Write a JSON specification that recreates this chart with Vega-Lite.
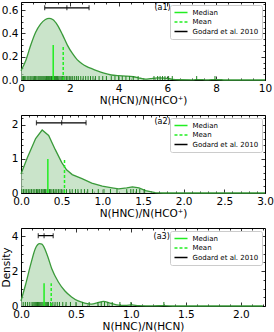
{
"$schema": "https://vega.github.io/schema/vega-lite/v6.json",
"padding": {"left": 0, "top": 1, "right": 0, "bottom": 0},
"spacing": 7,
"config": {
  "font": "DejaVu Sans",
  "view": {"stroke": "black", "strokeWidth": 1},
  "axis": {"domain": false, "grid": false, "tickColor": "black", "tickSize": -4, "tickWidth": 0.8, "labelFont": "DejaVu Sans", "labelFontSize": 10.5, "labelColor": "black", "labelPadding": 7, "labelOverlap": false, "labelBound": false, "labelFlush": false, "titleFont": "DejaVu Sans", "titleFontSize": 10.5, "titleFontWeight": "normal", "titleColor": "black", "titlePadding": 2, "minExtent": 0},
  "axisY": {"titlePadding": 0},
  "legend": {"orient": "top-right", "offset": 3, "fillColor": "white", "strokeColor": "#cccccc", "cornerRadius": 2, "padding": 3.5, "labelFont": "DejaVu Sans", "labelFontSize": 7, "labelColor": "black", "symbolType": "stroke", "symbolSize": 170, "symbolStrokeWidth": 1.5, "rowPadding": 1.5, "labelOffset": 4, "clipHeight": 8}
},
"datasets": {
  "k1": [{"x":0,"d":0.08},{"x":0.2,"d":0.17},{"x":0.4,"d":0.3},{"x":0.6,"d":0.41},{"x":0.8,"d":0.48},{"x":1.0,"d":0.52},{"x":1.15,"d":0.53},{"x":1.3,"d":0.52},{"x":1.5,"d":0.47},{"x":1.7,"d":0.39},{"x":1.9,"d":0.3},{"x":2.1,"d":0.23},{"x":2.3,"d":0.175},{"x":2.5,"d":0.14},{"x":2.7,"d":0.115},{"x":2.9,"d":0.097},{"x":3.1,"d":0.08},{"x":3.4,"d":0.058},{"x":3.7,"d":0.043},{"x":4.0,"d":0.037},{"x":4.3,"d":0.034},{"x":4.6,"d":0.028},{"x":4.9,"d":0.015},{"x":5.1,"d":0.008},{"x":5.3,"d":0.012},{"x":5.6,"d":0.018},{"x":5.9,"d":0.016},{"x":6.2,"d":0.006},{"x":6.5,"d":0.002},{"x":7.0,"d":0.001},{"x":7.3,"d":0.004},{"x":7.6,"d":0.001},{"x":8.0,"d":0.004},{"x":8.4,"d":0.0},{"x":10,"d":0}],
  "k2": [{"x":0,"d":0.56},{"x":0.08,"d":1.05},{"x":0.18,"d":1.6},{"x":0.26,"d":1.85},{"x":0.34,"d":1.69},{"x":0.42,"d":1.28},{"x":0.5,"d":0.9},{"x":0.56,"d":0.68},{"x":0.63,"d":0.54},{"x":0.75,"d":0.42},{"x":0.87,"d":0.29},{"x":1.0,"d":0.2},{"x":1.12,"d":0.15},{"x":1.2,"d":0.12},{"x":1.3,"d":0.15},{"x":1.37,"d":0.18},{"x":1.45,"d":0.15},{"x":1.53,"d":0.07},{"x":1.65,"d":0.01},{"x":1.75,"d":0},{"x":3.0,"d":0}],
  "k3": [{"x":0,"d":0.29},{"x":0.04,"d":1.19},{"x":0.09,"d":2.43},{"x":0.13,"d":3.29},{"x":0.17,"d":3.58},{"x":0.19,"d":3.55},{"x":0.24,"d":2.9},{"x":0.28,"d":2.14},{"x":0.34,"d":1.38},{"x":0.4,"d":0.86},{"x":0.46,"d":0.52},{"x":0.52,"d":0.29},{"x":0.58,"d":0.17},{"x":0.64,"d":0.11},{"x":0.7,"d":0.19},{"x":0.75,"d":0.27},{"x":0.81,"d":0.17},{"x":0.87,"d":0.07},{"x":0.95,"d":0.04},{"x":1.01,"d":0.06},{"x":1.07,"d":0.02},{"x":1.2,"d":0.01},{"x":1.3,"d":0.02},{"x":1.4,"d":0},{"x":2.2,"d":0}],
  "r1": [{"v":0.05},{"v":0.1},{"v":0.15},{"v":0.2},{"v":0.28},{"v":0.33},{"v":0.4},{"v":0.45},{"v":0.5},{"v":0.55},{"v":0.6},{"v":0.65},{"v":0.7},{"v":0.74},{"v":0.78},{"v":0.82},{"v":0.86},{"v":0.9},{"v":0.94},{"v":0.98},{"v":1.02},{"v":1.05},{"v":1.08},{"v":1.12},{"v":1.15},{"v":1.18},{"v":1.22},{"v":1.25},{"v":1.28},{"v":1.32},{"v":1.35},{"v":1.38},{"v":1.42},{"v":1.46},{"v":1.5},{"v":1.55},{"v":1.6},{"v":1.65},{"v":1.7},{"v":1.75},{"v":1.8},{"v":1.86},{"v":1.92},{"v":1.98},{"v":2.05},{"v":2.12},{"v":2.2},{"v":2.28},{"v":2.35},{"v":2.45},{"v":2.55},{"v":2.65},{"v":2.75},{"v":2.85},{"v":2.95},{"v":3.05},{"v":3.2},{"v":3.35},{"v":3.5},{"v":3.7},{"v":3.85},{"v":4.0},{"v":4.15},{"v":4.3},{"v":4.45},{"v":4.6},{"v":4.8},{"v":5.45},{"v":5.6},{"v":5.7},{"v":5.8},{"v":5.9},{"v":6.05},{"v":6.2},{"v":7.2},{"v":7.95}],
  "r2": [{"v":0.01},{"v":0.03},{"v":0.05},{"v":0.07},{"v":0.09},{"v":0.11},{"v":0.13},{"v":0.15},{"v":0.17},{"v":0.19},{"v":0.2},{"v":0.22},{"v":0.23},{"v":0.25},{"v":0.26},{"v":0.28},{"v":0.29},{"v":0.3},{"v":0.32},{"v":0.33},{"v":0.35},{"v":0.36},{"v":0.38},{"v":0.4},{"v":0.42},{"v":0.44},{"v":0.46},{"v":0.48},{"v":0.5},{"v":0.53},{"v":0.56},{"v":0.6},{"v":0.63},{"v":0.67},{"v":0.7},{"v":0.74},{"v":0.78},{"v":0.82},{"v":0.88},{"v":0.95},{"v":1.02},{"v":1.1},{"v":1.18},{"v":1.3},{"v":1.35},{"v":1.38},{"v":1.42},{"v":1.46},{"v":1.52}],
  "r3": [{"v":0.02},{"v":0.04},{"v":0.06},{"v":0.08},{"v":0.1},{"v":0.11},{"v":0.12},{"v":0.13},{"v":0.14},{"v":0.15},{"v":0.16},{"v":0.17},{"v":0.18},{"v":0.19},{"v":0.2},{"v":0.21},{"v":0.22},{"v":0.23},{"v":0.24},{"v":0.25},{"v":0.27},{"v":0.29},{"v":0.31},{"v":0.33},{"v":0.35},{"v":0.38},{"v":0.41},{"v":0.45},{"v":0.5},{"v":0.56},{"v":0.62},{"v":0.7},{"v":0.73},{"v":0.76},{"v":0.79},{"v":0.83},{"v":0.9},{"v":1.0},{"v":1.3}],
  "s1": [{"stat":"Median","v":1.32},{"stat":"Mean","v":1.73}],
  "s2": [{"stat":"Median","v":0.33},{"stat":"Mean","v":0.535}],
  "s3": [{"stat":"Median","v":0.21},{"stat":"Mean","v":0.275}],
  "g1": [{"stat":"Godard et al. 2010","v":0.97},{"stat":"Godard et al. 2010","v":1.88},{"stat":"Godard et al. 2010","v":2.79}],
  "g2": [{"stat":"Godard et al. 2010","v":0.19},{"stat":"Godard et al. 2010","v":0.5},{"stat":"Godard et al. 2010","v":0.8}],
  "g3": [{"stat":"Godard et al. 2010","v":0.157},{"stat":"Godard et al. 2010","v":0.21},{"stat":"Godard et al. 2010","v":0.293}]
},
"resolve": {"scale": {"x": "independent", "y": "independent", "color": "independent", "strokeDash": "independent"}},
"vconcat": [
{
  "width": 244, "height": 78,
  "resolve": {"axis": {"x": "independent", "y": "independent"}},
  "layer": [
    {"data": {"name": "k1"}, "mark": {"type": "area", "interpolate": "monotone", "fill": "#b3d9b3", "line": {"color": "#3a9a3a", "strokeWidth": 1.3}},
     "encoding": {
       "x": {"field": "x", "type": "quantitative", "scale": {"domain": [0, 10], "nice": false, "zero": false}, "axis": {"orient": "bottom", "values": [0,2,4,6,8,10], "format": "d", "title": "N(HCN)/N(HCO⁺)"}},
       "y": {"field": "d", "type": "quantitative", "scale": {"domain": [0, 0.67], "nice": false}, "axis": {"orient": "left", "values": [0,0.2,0.4,0.6], "format": ".1f", "title": null}}}},
    {"data": {"name": "r1"}, "mark": {"type": "rule", "color": "#1e801e", "opacity": 1, "strokeWidth": 1},
     "encoding": {
       "x": {"field": "v", "type": "quantitative", "axis": {"orient": "top", "values": [0,2,4,6,8,10], "labels": false, "title": null}},
       "y": {"datum": 0, "axis": {"orient": "right", "values": [0,0.2,0.4,0.6], "labels": false, "title": null}},
       "y2": {"datum": 0.034}}},
    {"data": {"name": "s1"}, "mark": {"type": "rule", "strokeWidth": 1.5},
     "encoding": {
       "x": {"field": "v", "type": "quantitative", "axis": {"orient": "bottom", "values": [0.5,1,1.5,2.5,3,3.5,4.5,5,5.5,6.5,7,7.5,8.5,9,9.5], "labels": false, "tickSize": -2, "title": null}},
       "y": {"datum": 0, "axis": {"orient": "left", "values": [0.05,0.1,0.15,0.25,0.3,0.35,0.45,0.5,0.55,0.65], "labels": false, "tickSize": -2, "title": null}},
       "y2": {"datum": 0.3},
       "color": {"field": "stat", "type": "nominal", "scale": {"domain": ["Median","Mean","Godard et al. 2010"], "range": ["#22ee22","#22ee22","black"]}, "legend": {"title": null}},
       "strokeDash": {"field": "stat", "type": "nominal", "scale": {"domain": ["Median","Mean","Godard et al. 2010"], "range": [[1,0],[3,2],[1,0]]}, "legend": {"title": null}}}},
    {"data": {"name": "g1"}, "mark": {"type": "rule", "strokeWidth": 1.3},
     "encoding": {
       "x": {"aggregate": "min", "field": "v", "type": "quantitative", "axis": {"orient": "top", "values": [0.5,1,1.5,2.5,3,3.5,4.5,5,5.5,6.5,7,7.5,8.5,9,9.5], "labels": false, "tickSize": -2, "title": null}},
       "x2": {"aggregate": "max", "field": "v"},
       "y": {"datum": 0.62, "axis": {"orient": "right", "values": [0.05,0.1,0.15,0.25,0.3,0.35,0.45,0.5,0.55,0.65], "labels": false, "tickSize": -2, "title": null}},
       "color": {"field": "stat", "type": "nominal", "legend": {"title": null}},
       "strokeDash": {"field": "stat", "type": "nominal", "legend": {"title": null}}}},
    {"data": {"name": "g1"}, "mark": {"type": "tick", "orient": "vertical", "color": "black", "size": 5, "thickness": 1.2},
     "encoding": {"x": {"field": "v", "type": "quantitative", "axis": null}, "y": {"datum": 0.62, "axis": null}}},
    {"data": {"values": [{"t": "(a1)"}]}, "mark": {"type": "text", "fontSize": 8, "font": "DejaVu Sans", "color": "black"},
     "encoding": {"x": {"datum": 5.8, "axis": null}, "y": {"datum": 0.62, "axis": null}, "text": {"field": "t"}}}
  ]
},
{
  "width": 244, "height": 78,
  "resolve": {"axis": {"x": "independent", "y": "independent"}},
  "layer": [
    {"data": {"name": "k2"}, "mark": {"type": "area", "interpolate": "linear", "fill": "#b3d9b3", "line": {"color": "#3a9a3a", "strokeWidth": 1.3}},
     "encoding": {
       "x": {"field": "x", "type": "quantitative", "scale": {"domain": [0, 3], "nice": false, "zero": false}, "axis": {"orient": "bottom", "values": [0,0.5,1,1.5,2,2.5,3], "format": ".1f", "title": "N(HNC)/N(HCO⁺)"}},
       "y": {"field": "d", "type": "quantitative", "scale": {"domain": [0, 2.29], "nice": false}, "axis": {"orient": "left", "values": [0,1,2], "format": "d", "title": null}}}},
    {"data": {"name": "r2"}, "mark": {"type": "rule", "color": "#1e801e", "opacity": 1, "strokeWidth": 1},
     "encoding": {
       "x": {"field": "v", "type": "quantitative", "axis": {"orient": "top", "values": [0,0.5,1,1.5,2,2.5,3], "labels": false, "title": null}},
       "y": {"datum": 0, "axis": {"orient": "right", "values": [0,1,2], "labels": false, "title": null}},
       "y2": {"datum": 0.115}}},
    {"data": {"name": "s2"}, "mark": {"type": "rule", "strokeWidth": 1.5},
     "encoding": {
       "x": {"field": "v", "type": "quantitative", "axis": {"orient": "bottom", "values": [0.1,0.2,0.3,0.4,0.6,0.7,0.8,0.9,1.1,1.2,1.3,1.4,1.6,1.7,1.8,1.9,2.1,2.2,2.3,2.4,2.6,2.7,2.8,2.9], "labels": false, "tickSize": -2, "title": null}},
       "y": {"datum": 0, "axis": {"orient": "left", "values": [0.2,0.4,0.6,0.8,1.2,1.4,1.6,1.8,2.2], "labels": false, "tickSize": -2, "title": null}},
       "y2": {"datum": 1.0},
       "color": {"field": "stat", "type": "nominal", "scale": {"domain": ["Median","Mean","Godard et al. 2010"], "range": ["#22ee22","#22ee22","black"]}, "legend": {"title": null}},
       "strokeDash": {"field": "stat", "type": "nominal", "scale": {"domain": ["Median","Mean","Godard et al. 2010"], "range": [[1,0],[3,2],[1,0]]}, "legend": {"title": null}}}},
    {"data": {"name": "g2"}, "mark": {"type": "rule", "strokeWidth": 1.3},
     "encoding": {
       "x": {"aggregate": "min", "field": "v", "type": "quantitative", "axis": {"orient": "top", "values": [0.1,0.2,0.3,0.4,0.6,0.7,0.8,0.9,1.1,1.2,1.3,1.4,1.6,1.7,1.8,1.9,2.1,2.2,2.3,2.4,2.6,2.7,2.8,2.9], "labels": false, "tickSize": -2, "title": null}},
       "x2": {"aggregate": "max", "field": "v"},
       "y": {"datum": 2.06, "axis": {"orient": "right", "values": [0.2,0.4,0.6,0.8,1.2,1.4,1.6,1.8,2.2], "labels": false, "tickSize": -2, "title": null}},
       "color": {"field": "stat", "type": "nominal", "legend": {"title": null}},
       "strokeDash": {"field": "stat", "type": "nominal", "legend": {"title": null}}}},
    {"data": {"name": "g2"}, "mark": {"type": "tick", "orient": "vertical", "color": "black", "size": 5, "thickness": 1.2},
     "encoding": {"x": {"field": "v", "type": "quantitative", "axis": null}, "y": {"datum": 2.06, "axis": null}}},
    {"data": {"values": [{"t": "(a2)"}]}, "mark": {"type": "text", "fontSize": 8, "font": "DejaVu Sans", "color": "black"},
     "encoding": {"x": {"datum": 1.74, "axis": null}, "y": {"datum": 2.08, "axis": null}, "text": {"field": "t"}}}
  ]
},
{
  "width": 244, "height": 78,
  "resolve": {"axis": {"x": "independent", "y": "independent"}},
  "layer": [
    {"data": {"name": "k3"}, "mark": {"type": "area", "interpolate": "monotone", "fill": "#b3d9b3", "line": {"color": "#3a9a3a", "strokeWidth": 1.3}},
     "encoding": {
       "x": {"field": "x", "type": "quantitative", "scale": {"domain": [0, 2.22], "nice": false, "zero": false}, "axis": {"orient": "bottom", "values": [0,0.5,1,1.5,2], "format": ".1f", "title": "N(HNC)/N(HCN)"}},
       "y": {"field": "d", "type": "quantitative", "scale": {"domain": [0, 4.48], "nice": false}, "axis": {"orient": "left", "values": [0,2,4], "format": "d", "title": "Density"}}}},
    {"data": {"name": "r3"}, "mark": {"type": "rule", "color": "#1e801e", "opacity": 1, "strokeWidth": 1},
     "encoding": {
       "x": {"field": "v", "type": "quantitative", "axis": {"orient": "top", "values": [0,0.5,1,1.5,2], "labels": false, "title": null}},
       "y": {"datum": 0, "axis": {"orient": "right", "values": [0,2,4], "labels": false, "title": null}},
       "y2": {"datum": 0.23}}},
    {"data": {"name": "s3"}, "mark": {"type": "rule", "strokeWidth": 1.5},
     "encoding": {
       "x": {"field": "v", "type": "quantitative", "axis": {"orient": "bottom", "values": [0.1,0.2,0.3,0.4,0.6,0.7,0.8,0.9,1.1,1.2,1.3,1.4,1.6,1.7,1.8,1.9,2.1,2.2], "labels": false, "tickSize": -2, "title": null}},
       "y": {"datum": 0, "axis": {"orient": "left", "values": [0.5,1,1.5,2.5,3,3.5,4.5], "labels": false, "tickSize": -2, "title": null}},
       "y2": {"datum": 1.3},
       "color": {"field": "stat", "type": "nominal", "scale": {"domain": ["Median","Mean","Godard et al. 2010"], "range": ["#22ee22","#22ee22","black"]}, "legend": {"title": null}},
       "strokeDash": {"field": "stat", "type": "nominal", "scale": {"domain": ["Median","Mean","Godard et al. 2010"], "range": [[1,0],[3,2],[1,0]]}, "legend": {"title": null}}}},
    {"data": {"name": "g3"}, "mark": {"type": "rule", "strokeWidth": 1.3},
     "encoding": {
       "x": {"aggregate": "min", "field": "v", "type": "quantitative", "axis": {"orient": "top", "values": [0.1,0.2,0.3,0.4,0.6,0.7,0.8,0.9,1.1,1.2,1.3,1.4,1.6,1.7,1.8,1.9,2.1,2.2], "labels": false, "tickSize": -2, "title": null}},
       "x2": {"aggregate": "max", "field": "v"},
       "y": {"datum": 4.04, "axis": {"orient": "right", "values": [0.5,1,1.5,2.5,3,3.5,4.5], "labels": false, "tickSize": -2, "title": null}},
       "color": {"field": "stat", "type": "nominal", "legend": {"title": null}},
       "strokeDash": {"field": "stat", "type": "nominal", "legend": {"title": null}}}},
    {"data": {"name": "g3"}, "mark": {"type": "tick", "orient": "vertical", "color": "black", "size": 5, "thickness": 1.2},
     "encoding": {"x": {"field": "v", "type": "quantitative", "axis": null}, "y": {"datum": 4.04, "axis": null}}},
    {"data": {"values": [{"t": "(a3)"}]}, "mark": {"type": "text", "fontSize": 8, "font": "DejaVu Sans", "color": "black"},
     "encoding": {"x": {"datum": 1.28, "axis": null}, "y": {"datum": 3.97, "axis": null}, "text": {"field": "t"}}}
  ]
}
]
}
